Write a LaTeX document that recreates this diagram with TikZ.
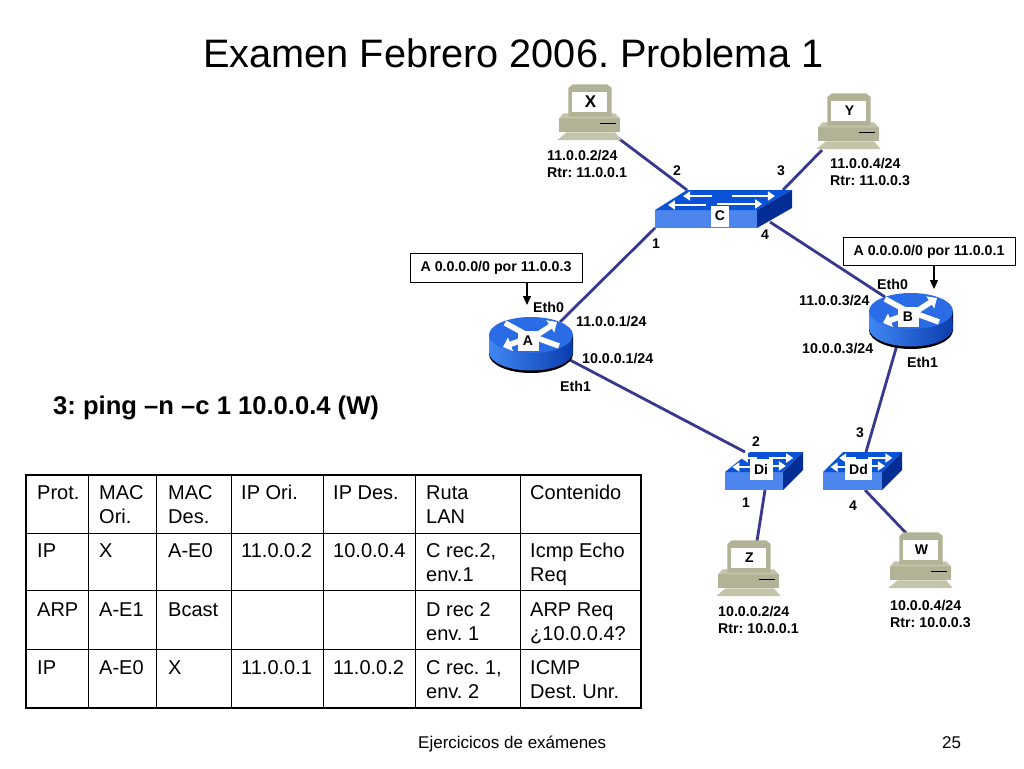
\documentclass[tikz,border=0pt]{standalone}
\usepackage{fontspec}
\setmainfont{Liberation Sans}
\usetikzlibrary{arrows.meta}
\frenchspacing
\definecolor{linkblue}{HTML}{38388F}
\definecolor{pcbody}{HTML}{B2B296}
\definecolor{pclight}{HTML}{C4C4AA}
\definecolor{bluetop}{HTML}{2A6BE6}
\definecolor{bluetopsw}{HTML}{0A52D8}
\definecolor{bluefront}{HTML}{4C85EC}
\definecolor{blueside}{HTML}{032C94}
\definecolor{bluelight}{HTML}{4088F5}
\definecolor{bluemid}{HTML}{0F58E4}
\definecolor{bluedeep}{HTML}{0A3CAC}
\tikzset{
  x=1pt,y=-1pt,
  link/.style={draw=linkblue,line width=2.8pt},
  port/.style={inner sep=0pt,minimum size=0pt,outer sep=0pt},
  lab/.style={anchor=base west,inner sep=0pt,font=\fontsize{14.2}{17}\selectfont\bfseries},
  num/.style={anchor=center,inner sep=0pt,font=\fontsize{14}{17}\selectfont\bfseries},
  devlab/.style={fill=white,inner sep=0pt,font=\fontsize{14}{17}\selectfont\bfseries},
  callout/.style={draw=black,line width=0.8pt,fill=white,inner sep=0pt,minimum width=172pt,minimum height=28.5pt,font=\fontsize{14.2}{17}\selectfont\bfseries},
  calloutarrow/.style={draw=black,line width=1.2pt,-{Triangle[length=9pt,width=8pt]}},
  cell/.style={anchor=north west,inner sep=0pt,align=left,font=\fontsize{20}{24}\selectfont},
  tableline/.style={draw=black,line width=1pt},
  tableframe/.style={draw=black,line width=2.8pt},
  rarrow/.style={draw=white,line width=5.5pt,-{Triangle[length=8pt,width=14pt]}},
  rbar/.style={draw=white,line width=5.5pt},
  sarrow/.style={draw=white,line width=2.8pt,-{Triangle[length=7pt,width=9pt]}},
}
% computer: #1 name, #2 left, #3 top, #4 label
\newcommand{\pcdev}[4]{%
\begin{scope}[shift={(#2,#3)}]
  \fill[pclight] (0.3,56) -- (9.7,48.3) -- (58,48.3) -- (64.7,56) -- cycle;
  \fill[pcbody] (2.3,34.3) -- (63,34.3) -- (63,47.7) -- (2.3,47.7) -- cycle;
  \fill[pclight] (6.3,29.3) -- (58,29.3) -- (63,34.3) -- (2.3,34.3) -- cycle;
  \fill[pcbody] (11.3,32.7) -- (11.3,4) -- (16,0.3) -- (50,0.3) -- (54.7,4) -- (54.7,32.7) -- cycle;
  \fill[white] (15.3,7.7) rectangle (49.7,28.3);
  \draw[black,line width=0.8pt] (43,39.3) -- (59,39.3);
  \node[devlab,fill=none] (#1) at (33.5,18) {#4};
\end{scope}}
% router: #1 name, #2 cx, #3 cy of top ellipse, #4 label cx offset
\newcommand{\routerdev}[4]{%
\begin{scope}[shift={(#2,#3)}]
  \fill[black] (-42,1) -- (-42,19) arc[start angle=180,end angle=0,x radius=42,y radius=19] -- (42,1) -- cycle;
  \shade[left color=bluelight,middle color=bluemid,right color=bluedeep] (-42,0) -- (-42,17) arc[start angle=180,end angle=0,x radius=42,y radius=18.5] -- (41,0) -- cycle;
  \fill[bluetop] (0,0) ellipse[x radius=42,y radius=18];
  \draw[rbar] (-26,-12) -- (-4,0);
  \draw[rarrow] (6,0) -- (26,-13);
  \draw[rarrow] (-6,4) -- (-28,12);
  \draw[rbar] (6,3) -- (28,11);
  \node[devlab,minimum width=21pt,minimum height=20pt] (#1) at (#4,6) {#1};
\end{scope}}
% switch: #1 name, #2 x of front-left, #3 y of front top, #4 front width, #5 right depth x, #6 depth y, #7 front h, #8 label offset, #9 label width; \swleft = left depth x, \swlaby = label y offset
\newcommand{\switchdev}[9]{%
\begin{scope}[shift={(#2,#3)}]
  \fill[bluefront] (0,0) rectangle (#4,#7);
  \fill[bluetopsw] (0,0) -- (\swleft,-#6) -- ({#4+#5},-#6) -- (#4,0) -- cycle;
  \fill[blueside] (#4,0) -- ({#4+#5},-#6) -- ({#4+#5},{#7-#6}) -- (#4,#7) -- cycle;
  \draw[sarrow] ({0.50*#4},{-#6*0.25}) -- ({0.127*#4},{-#6*0.25});
  \draw[sarrow] ({0.61*#4},{-#6*0.3}) -- ({1.05*#4},{-#6*0.3});
  \draw[sarrow] ({0.56*#4},{-#6*0.7}) -- ({0.275*#4},{-#6*0.7});
  \draw[sarrow] ({0.755*#4},{-#6*0.7}) -- ({1.176*#4},{-#6*0.7});
  \node[devlab,minimum width=#9,minimum height=21pt] (#1) at (#8,\swlaby) {#1};
\end{scope}}
\newcommand{\tcell}[5]{\node[cell] (#1) at (#2,#3) {\strut #4\ifx\relax#5\relax\else\\\strut #5\fi};}
\begin{document}
\begin{tikzpicture}
\useasboundingbox (0,0) rectangle (1024,768);
\fill[white] (0,0) rectangle (1024,768);
% ports
\node[port] (pX) at (618,138) {};
\node[port] (pY) at (822,150) {};
\node[port] (pC2) at (687,190) {};
\node[port] (pC3) at (783,190) {};
\node[port] (pC1) at (655,228) {};
\node[port] (pC4) at (770,222) {};
\node[port] (pAe0) at (560,322) {};
\node[port] (pAe1) at (570,360) {};
\node[port] (pBe0) at (885,297) {};
\node[port] (pBe1) at (897,345) {};
\node[port] (pDi2) at (745,452) {};
\node[port] (pDi1) at (765,490) {};
\node[port] (pDd3) at (866,452) {};
\node[port] (pDd4) at (865,490) {};
\node[port] (pZ) at (757,541) {};
\node[port] (pW) at (906,533) {};
% connectors
\draw[link] (pX) -- (pC2);
\draw[link] (pY) -- (pC3);
\draw[link] (pC1) -- (pAe0);
\draw[link] (pC4) -- (pBe0);
\draw[link] (pAe1) -- (pDi2);
\draw[link] (pBe1) -- (pDd3);
\draw[link] (pDi1) -- (pZ);
\draw[link] (pDd4) -- (pW);
% devices
\pcdev{X}{557}{84}{\fontsize{17}{20}\selectfont X}
\pcdev{Y}{816}{93}{Y}
\pcdev{Z}{716}{540}{Z}
\pcdev{W}{888}{532}{W}
\def\swleft{32}\def\swlaby{6}
\switchdev{C}{655}{210}{102}{35}{20}{18}{65}{18pt}
\def\swleft{25}\def\swlaby{-3}
\switchdev{Di}{725}{472}{58}{20}{20}{18}{36}{23pt}
\def\swleft{20}
\switchdev{Dd}{823}{472}{59}{20}{20}{18}{35.5}{27pt}
\routerdev{A}{531}{335}{-3}
\routerdev{B}{911}{311}{-3}
% title
\node[anchor=base west,inner sep=0pt,font=\fontsize{39.7}{48}\selectfont] (title) at (203,67) {Examen Febrero 2006. Problema 1};
% callouts
\node[callout] (boxA) at (496,268) {A 0.0.0.0/0 por 11.0.0.3};
\node[callout] (boxB) at (929,251.5) {A 0.0.0.0/0 por 11.0.0.1};
\node[port] (tipA) at (527,305) {};
\node[port] (tipB) at (934,289) {};
\draw[calloutarrow] (boxA.south -| tipA) -- (tipA);
\draw[calloutarrow] (boxB.south -| tipB) -- (tipB);
% address labels
\node[lab] (lx1) at (547,160) {11.0.0.2/24};
\node[lab] (lx2) at (547,177) {Rtr: 11.0.0.1};
\node[lab] (ly1) at (830,168) {11.0.0.4/24};
\node[lab] (ly2) at (830,185) {Rtr: 11.0.0.3};
\node[lab] (lz1) at (718,616) {10.0.0.2/24};
\node[lab] (lz2) at (718,633) {Rtr: 10.0.0.1};
\node[lab] (lw1) at (890,610) {10.0.0.4/24};
\node[lab] (lw2) at (890,627) {Rtr: 10.0.0.3};
\node[lab] (ae0) at (533,312) {Eth0};
\node[lab] (aip0) at (576,326) {11.0.0.1/24};
\node[lab] (aip1) at (582,363) {10.0.0.1/24};
\node[lab] (ae1) at (560,391) {Eth1};
\node[lab] (be0) at (877,289) {Eth0};
\node[lab] (bip0) at (799,305) {11.0.0.3/24};
\node[lab] (bip1) at (802,353) {10.0.0.3/24};
\node[lab] (be1) at (907,367) {Eth1};
% port numbers
\node[num] (n2) at (677,171) {2};
\node[num] (n3) at (781,171) {3};
\node[num] (n1) at (656,244) {1};
\node[num] (n4) at (765,235) {4};
\node[num] (nd2) at (756,442) {2};
\node[num] (nd3) at (860,433) {3};
\node[num] (nd1) at (746,503) {1};
\node[num] (nd4) at (853,506) {4};
% ping
\node[anchor=base west,inner sep=0pt,font=\fontsize{25.6}{30}\selectfont\bfseries] (ping) at (53,414) {3: ping –n –c 1 10.0.0.4 (W)};
% table
\foreach \yy in {533,590,649} \draw[tableline] (26,\yy) -- (641,\yy);
\foreach \xx in {88,156,231,323,415,520} \draw[tableline] (\xx,475) -- (\xx,708);
\draw[tableframe] (26,475) rectangle (641,708);
\tcell{c11}{37}{482}{Prot.}{}
\tcell{c12}{99}{482}{MAC}{Ori.}
\tcell{c13}{168}{482}{MAC}{Des.}
\tcell{c14}{241}{482}{IP Ori.}{}
\tcell{c15}{333}{482}{IP Des.}{}
\tcell{c16}{426}{482}{Ruta}{LAN}
\tcell{c17}{530}{482}{Contenido}{}
\tcell{c21}{37}{540}{IP}{}
\tcell{c22}{99}{540}{X}{}
\tcell{c23}{168}{540}{A-E0}{}
\tcell{c24}{241}{540}{11.0.0.2}{}
\tcell{c25}{333}{540}{10.0.0.4}{}
\tcell{c26}{426}{540}{C rec.2,}{env.1}
\tcell{c27}{530}{540}{Icmp Echo}{Req}
\tcell{c31}{37}{599}{ARP}{}
\tcell{c32}{99}{599}{A-E1}{}
\tcell{c33}{168}{599}{Bcast}{}
\tcell{c36}{426}{599}{D rec 2}{env. 1}
\tcell{c37}{530}{599}{ARP Req}{¿10.0.0.4?}
\tcell{c41}{37}{657}{IP}{}
\tcell{c42}{99}{657}{A-E0}{}
\tcell{c43}{168}{657}{X}{}
\tcell{c44}{241}{657}{11.0.0.1}{}
\tcell{c45}{333}{657}{11.0.0.2}{}
\tcell{c46}{426}{657}{C rec. 1,}{env. 2}
\tcell{c47}{530}{657}{ICMP}{Dest. Unr.}
% footer
\node[anchor=base west,inner sep=0pt,font=\fontsize{17}{20}\selectfont] (foot) at (418,748) {Ejercicicos de exámenes};
\node[anchor=base west,inner sep=0pt,font=\fontsize{17}{20}\selectfont] (page) at (942,748) {25};
\end{tikzpicture}
\end{document}
